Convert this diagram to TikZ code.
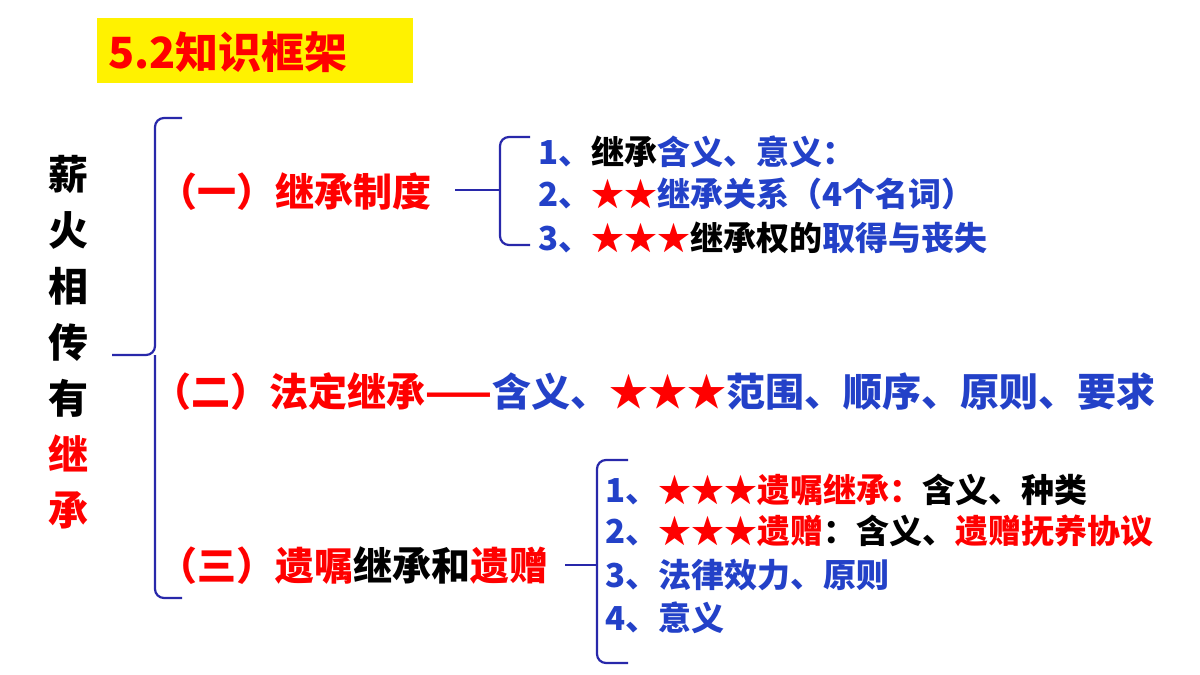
\documentclass[tikz,border=0pt]{standalone}
\usepackage{fontspec}
\setmainfont{Noto Sans CJK SC}
\begin{document}
\begin{tikzpicture}[x=1pt,y=-1pt,
  txt/.style={anchor=west,inner sep=0pt,font=\fontsize{39}{39}\selectfont\bfseries},
  itm/.style={anchor=west,inner sep=0pt,font=\fontsize{33}{33}\selectfont\bfseries},
  br/.style={draw=bbr,line width=2.2pt,rounded corners=9pt}]
\definecolor{bb}{RGB}{35,65,200}
\definecolor{bbr}{RGB}{40,40,170}
\definecolor{rr}{RGB}{255,0,0}
\useasboundingbox (0,0) rectangle (1200,675);
\fill[white] (0,0) rectangle (1200,675);
\fill[yellow] (97,18) rectangle (413,83);
\node[txt,text=rr,font=\fontsize{43}{43}\selectfont\bfseries] (title) at (108,52) {5.2知识框架};
% vertical title
\node[anchor=north,inner sep=0pt,align=center,font=\fontsize{40}{56}\selectfont\bfseries] (vt) at (68,155)
 {薪\\火\\相\\传\\有\\\textcolor{rr}{继}\\\textcolor{rr}{承}};
% big brace
\coordinate (bt) at (182,118); \coordinate (bb1) at (182,598); \coordinate (btip) at (112,355);
\draw[br] (bt) -- (155,118) -- (155,355) -- (btip);
\draw[br] (bb1) -- (155,598) -- (155,355);
% (一)
\node[txt,text=rr] (n1) at (158,192) {（一）继承制度};
\coordinate (s1) at (455,190);
\draw[br] (s1) -- (500,190);
\draw[br] (530,137) -- (500,137) -- (500,245) -- (530,245);
\node[itm] (a1) at (538,152) {\textcolor{bb}{1、}继承\textcolor{bb}{含义、意义：}};
\node[itm] (a2) at (538,194) {\textcolor{bb}{2、}\textcolor{rr}{★★}\textcolor{bb}{继承关系（4个名词）}};
\node[itm] (a3) at (538,238) {\textcolor{bb}{3、}\textcolor{rr}{★★★}继承权的\textcolor{bb}{取得与丧失}};
% (二)
\node[txt] (n2) at (152,392) {\textcolor{rr}{（二）法定继承——}\textcolor{bb}{含义、}\textcolor{rr}{★★★}\textcolor{bb}{范围、顺序、原则、要求}};
% (三)
\node[txt] (n3) at (158,566) {\textcolor{rr}{（三）遗嘱}继承和\textcolor{rr}{遗赠}};
\coordinate (s3) at (565,565);
\draw[br] (s3) -- (597,565);
\draw[br] (628,460) -- (597,460) -- (597,663) -- (628,663);
\node[itm] (c1) at (605,490) {\textcolor{bb}{1、}\textcolor{rr}{★★★遗嘱继承：}含义、种类};
\node[itm] (c2) at (605,531) {\textcolor{bb}{2、}\textcolor{rr}{★★★遗赠}：含义、\textcolor{rr}{遗赠抚养协议}};
\node[itm] (c3) at (605,575) {\textcolor{bb}{3、法律效力、原则}};
\node[itm] (c4) at (605,618) {\textcolor{bb}{4、意义}};
\end{tikzpicture}
\end{document}
